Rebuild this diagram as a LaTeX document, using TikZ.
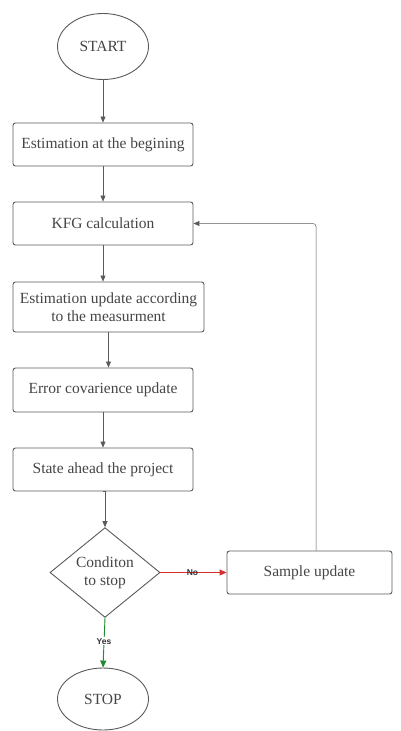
\documentclass[tikz,border=0pt]{standalone}
\usepackage{fontspec}
\setmainfont{Liberation Serif}
\newfontfamily\lblfont{Liberation Sans}
\usetikzlibrary{shapes.geometric,arrows.meta}
\definecolor{linegray}{HTML}{5A5A5A}
\definecolor{txtgray}{HTML}{454545}
\definecolor{noRed}{HTML}{D9302C}
\definecolor{yesGreen}{HTML}{1E8C2E}
\begin{document}
\begin{tikzpicture}[x=1pt,y=-1pt,
  every node/.style={text=txtgray,font=\fontsize{15.5}{18}\selectfont},
  procbox/.style={draw=linegray,line width=0.9pt,rounded corners=2.5pt,rectangle,inner sep=0pt,align=center},
  oval/.style={draw=linegray,line width=0.9pt,ellipse,minimum width=91pt,minimum height=66pt,inner sep=0pt},
  decide/.style={draw=linegray,line width=0.9pt,diamond,minimum width=110pt,minimum height=89pt,inner sep=0pt,align=center},
  flow/.style={draw=linegray,line width=0.6pt,-{Triangle[length=6pt,width=5pt]}},
  lbl/.style={font=\lblfont\bfseries\fontsize{8.5}{9}\selectfont,text=black!80,fill=white,inner sep=1pt}]
\useasboundingbox (0,0) rectangle (400,731);
\node[oval] (start) at (103,46.5) {START};
\node[procbox,minimum width=180pt,minimum height=43pt] (est) at (103,144.5) {Estimation at the begining};
\node[procbox,minimum width=180pt,minimum height=43pt] (kfg) at (103,223.5) {KFG calculation};
\node[procbox,minimum width=191pt,minimum height=50pt] (upd) at (108.5,307) {Estimation update according\\ to the measurment};
\node[procbox,minimum width=180pt,minimum height=44pt] (err) at (103,390) {Error covarience update};
\node[procbox,minimum width=180pt,minimum height=43pt] (state) at (103,469.5) {State ahead the project};
\node[decide] (cond) at (105,572.5) {Conditon\\ to stop};
\node[procbox,minimum width=165pt,minimum height=43pt] (samp) at (309.5,572.5) {Sample update};
\node[oval,minimum height=62pt] (stop) at (103,699) {STOP};
\coordinate (corner) at (316,223.5);
\draw[flow] (start) -- (est);
\draw[flow] (est) -- (kfg);
\draw[flow] (kfg.south) -- (kfg.south |- upd.north);
\draw[flow] (upd.south) -- (upd.south |- err.north);
\draw[flow] (err) -- (err.south |- state.north);
\draw[flow] (state.south) -- (state.south -| cond.north) -- (cond.north);
\draw[flow,draw=noRed,line width=0.9pt,-{Triangle[length=7pt,width=6pt]},fill=noRed] (cond.east) -- node[lbl,fill=none,pos=0.5,xshift=-1pt]{No} (samp.west);
\draw[flow,draw=yesGreen,line width=0.9pt,-{Triangle[length=7pt,width=6pt]},fill=yesGreen] (cond.south) -- node[lbl,pos=0.47]{Yes} (stop.north);
\draw[flow,line width=0.5pt,rounded corners=3pt] (samp.north -| corner) -- (corner) -- (kfg.east);
\end{tikzpicture}
\end{document}
